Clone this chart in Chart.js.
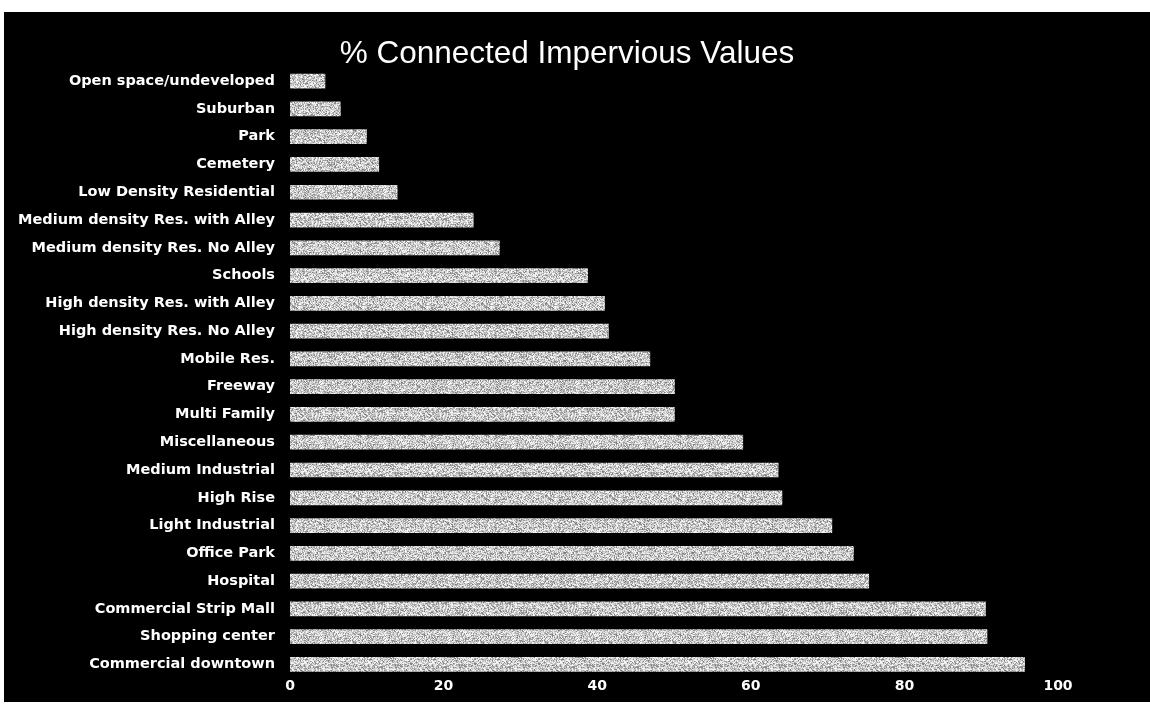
<!DOCTYPE html>
<html>
<head>
<meta charset="utf-8">
<title>% Connected Impervious Values</title>
<script src="https://cdn.jsdelivr.net/npm/chart.js@4/dist/chart.umd.min.js"></script>
<style>
  html, body { margin: 0; padding: 0; background: #ffffff; }
  #wrap { position: absolute; left: 4px; top: 12px; width: 1146px; height: 690px; background: #000000; }
  #chart { display: block; }
</style>
</head>
<body>
<div id="wrap"><canvas id="chart"></canvas></div>
<script>
// Land-use categories, listed top to bottom
const landUses = [
  'Open space/undeveloped',
  'Suburban',
  'Park',
  'Cemetery',
  'Low Density Residential',
  'Medium density Res. with Alley',
  'Medium density Res. No Alley',
  'Schools',
  'High density Res. with Alley',
  'High density Res. No Alley',
  'Mobile Res.',
  'Freeway',
  'Multi Family',
  'Miscellaneous',
  'Medium Industrial',
  'High Rise',
  'Light Industrial',
  'Office Park',
  'Hospital',
  'Commercial Strip Mall',
  'Shopping center',
  'Commercial downtown'
];

// Percent of connected impervious area for each land use
const connectedImpervious = [
  4.6, 6.6, 10.0, 11.6, 14.0, 23.9, 27.3, 38.8, 41.0, 41.5, 46.9,
  50.1, 50.1, 59.0, 63.6, 64.1, 70.6, 73.4, 75.4, 90.6, 90.8, 95.7
];

// Value axis tick labels
const valueTicks = [0, 20, 40, 60, 80, 100];

const chartTitle = '% Connected Impervious Values';

// Speckled grey fill for the bars (deterministic dither texture)
function speckleFill() {
  const size = 64;
  const c = document.createElement('canvas');
  c.width = size; c.height = size;
  const g = c.getContext('2d');
  const img = g.createImageData(size, size);
  for (let y = 0; y < size; y++) {
    for (let x = 0; x < size; x++) {
      const s = Math.sin(x * 12.9898 + y * 78.233) * 43758.5453;
      const h = s - Math.floor(s);
      const v = Math.round(115 + 140 * Math.pow(h, 0.7));
      const k = (y * size + x) * 4;
      img.data[k] = v; img.data[k + 1] = v; img.data[k + 2] = v; img.data[k + 3] = 255;
    }
  }
  g.putImageData(img, 0, 0);
  return g.createPattern(c, 'repeat');
}

const ctx = document.getElementById('chart').getContext('2d');
new Chart(ctx, {
  type: 'bar',
  data: {
    labels: landUses,
    datasets: [{
      data: connectedImpervious,
      backgroundColor: speckleFill(),
      borderWidth: 0,
      categoryPercentage: 1.0,
      barPercentage: 0.53
    }]
  },
  options: {
    indexAxis: 'y',
    responsive: true,
    maintainAspectRatio: false,
    animation: false,
    layout: { padding: { left: 0, right: 20, top: 0, bottom: 2 } },
    plugins: {
      legend: { display: false },
      tooltip: { enabled: false },
      title: {
        display: true,
        text: chartTitle,
        color: '#ffffff',
        font: { family: '"Liberation Sans", Arial, sans-serif', size: 31.5, weight: 'normal', lineHeight: 0.85 },
        padding: { top: 28.5, bottom: 0 }
      }
    },
    scales: {
      x: {
        type: 'linear',
        min: 0,
        max: 100,
        grid: { display: false, drawTicks: false },
        border: { display: false },
        afterBuildTicks: (scale) => { scale.ticks = valueTicks.map(v => ({ value: v })); },
        ticks: {
          color: '#ffffff',
          padding: 0,
          font: { family: '"DejaVu Sans", sans-serif', size: 14, weight: 'bold' },
          callback: (v) => String(v)
        }
      },
      y: {
        type: 'category',
        position: 'left',
        grid: { display: false, drawTicks: false },
        border: { display: false },
        afterFit: (scale) => { scale.width = 286; },
        ticks: {
          color: '#ffffff',
          padding: 15,
          autoSkip: false,
          font: { family: '"DejaVu Sans", sans-serif', size: 14.5, weight: 'bold' }
        }
      },
      // empty band to the right of the bars
      yRight: {
        type: 'category',
        position: 'right',
        grid: { display: false, drawTicks: false },
        border: { display: false },
        ticks: { display: false },
        afterFit: (scale) => { scale.width = 72; }
      }
    }
  }
});
</script>
</body>
</html>
